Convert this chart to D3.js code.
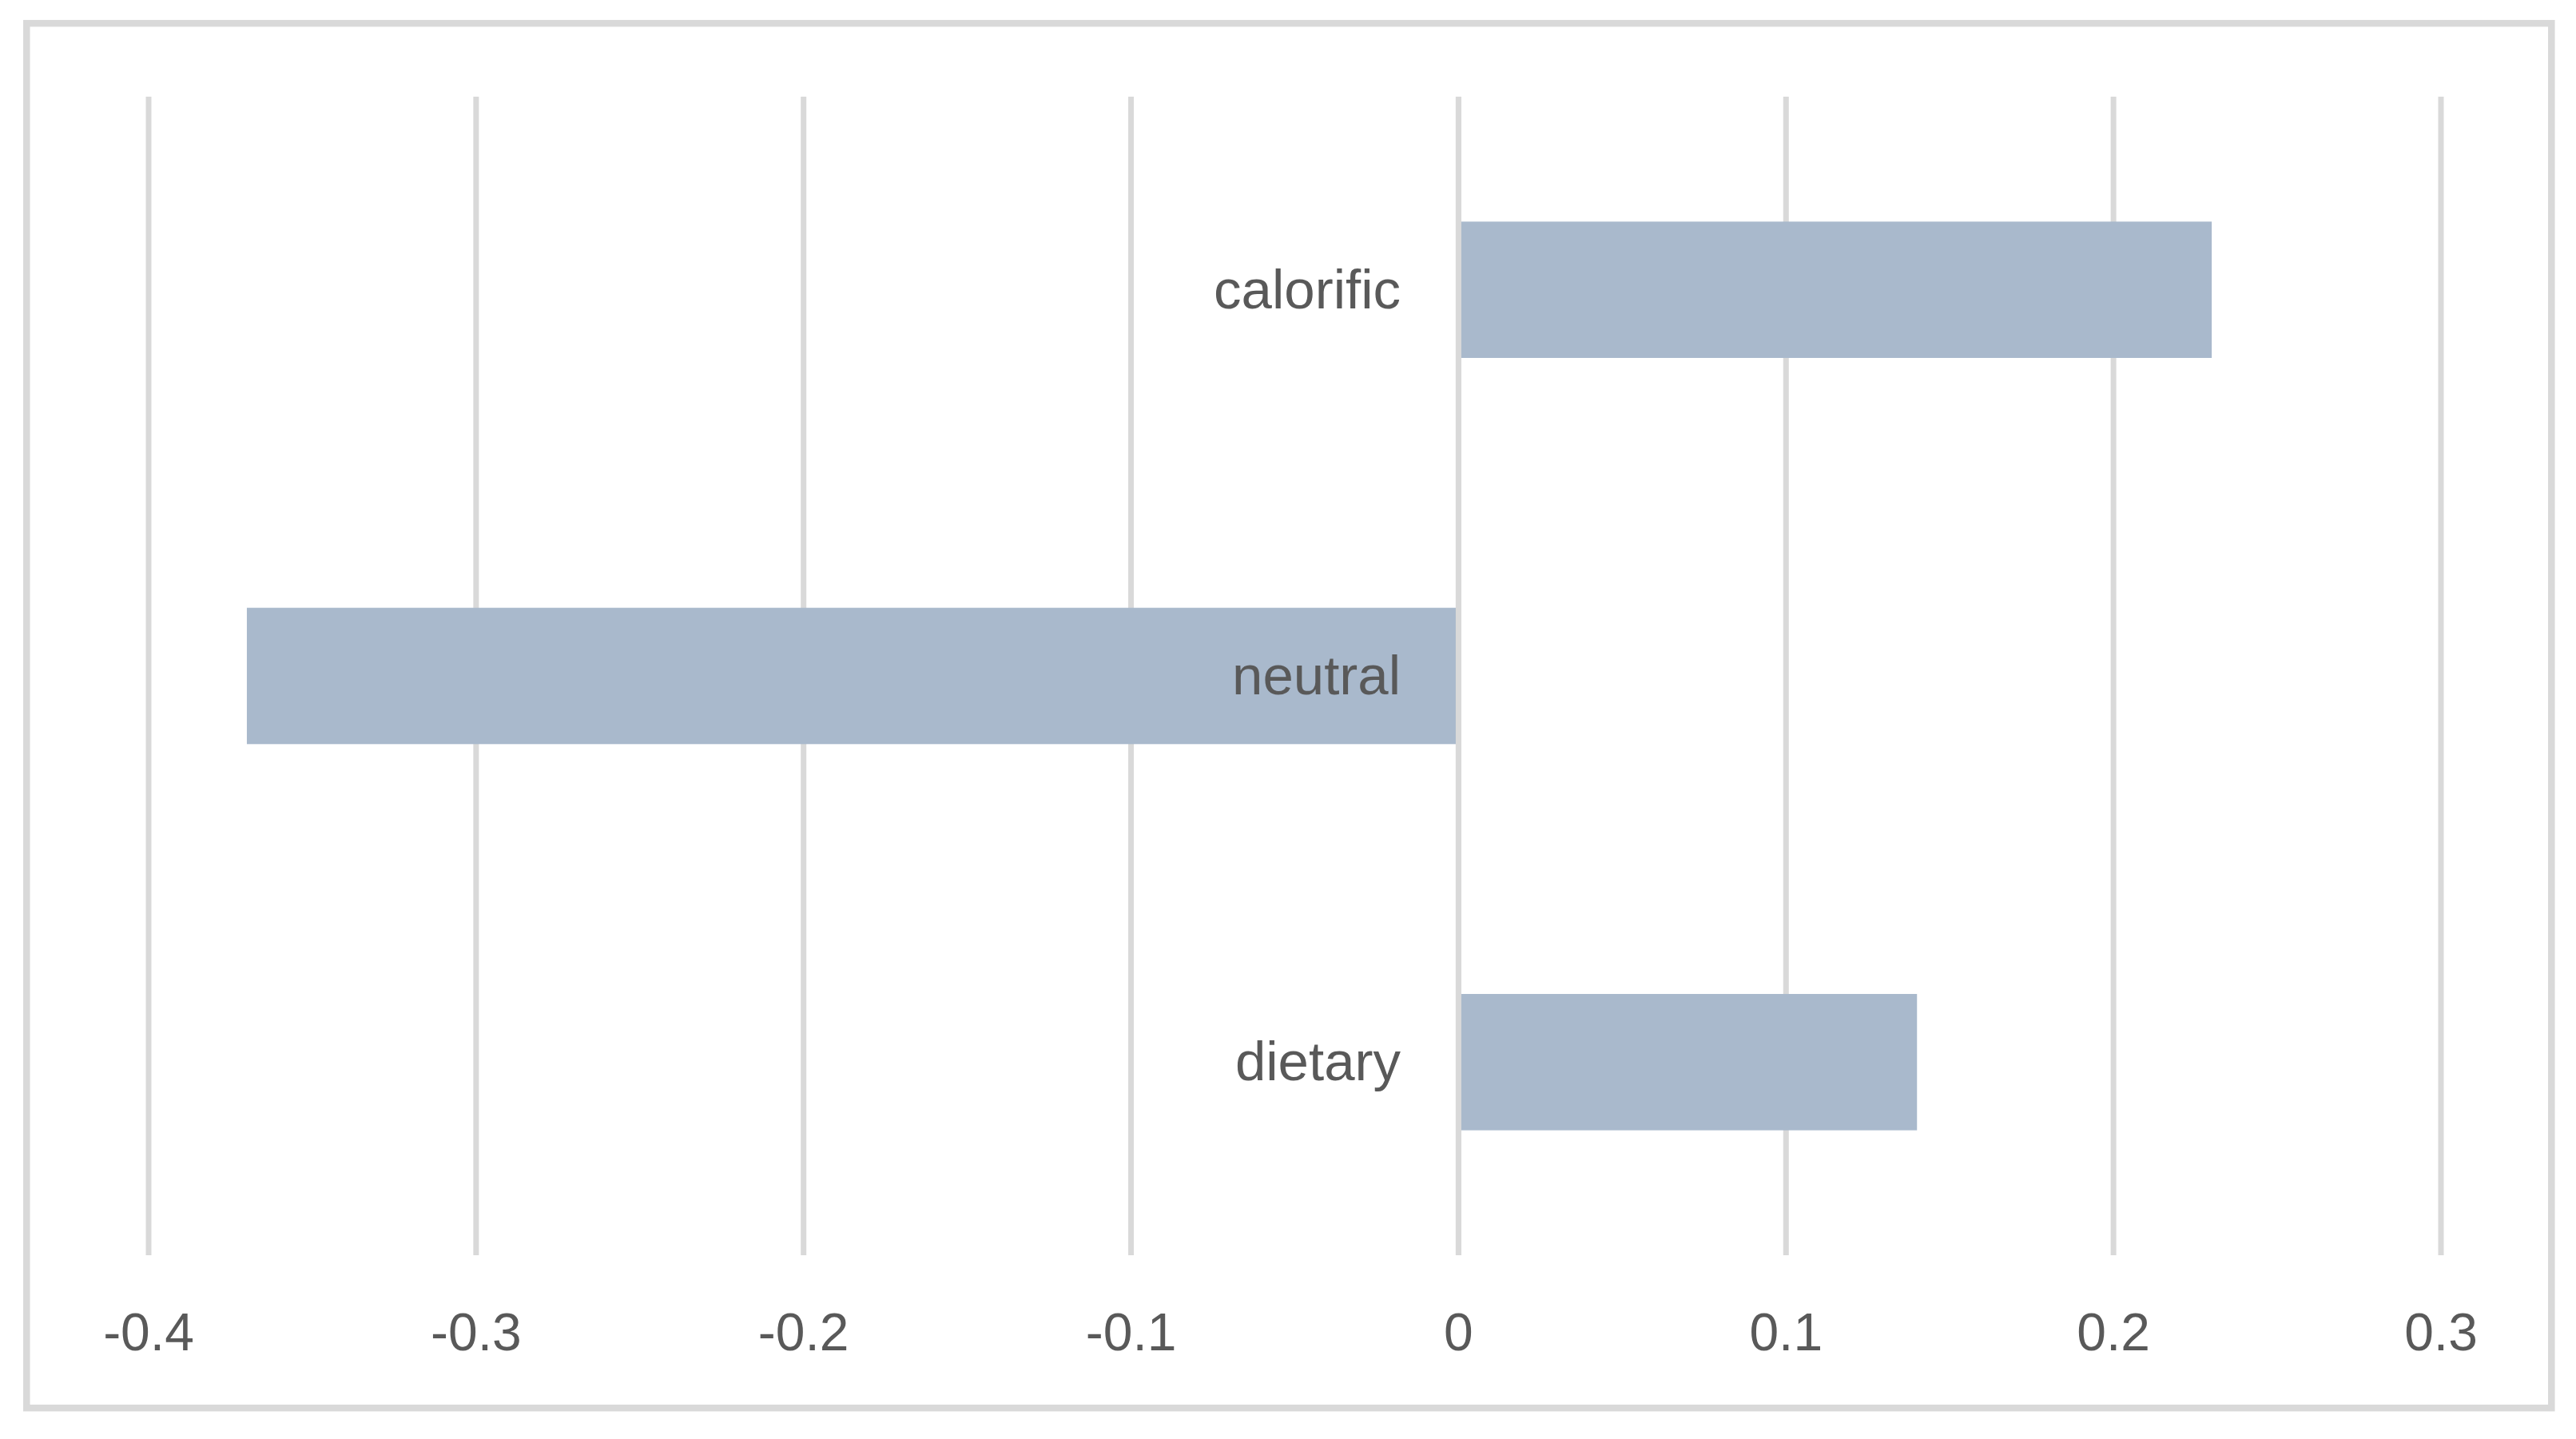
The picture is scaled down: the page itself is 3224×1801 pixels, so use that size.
<!DOCTYPE html>
<html>
<head>
<meta charset="utf-8">
<script src="https://cdn.jsdelivr.net/npm/d3@7"></script>
<style>
  html, body { margin: 0; padding: 0; background: #ffffff; }
  svg { display: block; }
</style>
</head>
<body>
<script>
const categories = ["calorific", "neutral", "dietary"];
const values = [0.23, -0.37, 0.14];
const tickValues = [-0.4, -0.3, -0.2, -0.1, 0, 0.1, 0.2, 0.3];
const tickLabels = ["-0.4", "-0.3", "-0.2", "-0.1", "0", "0.1", "0.2", "0.3"];

const W = 3224, H = 1801;
const svg = d3.select("body").append("svg").attr("width", W).attr("height", H);

svg.append("rect").attr("x", 0).attr("y", 0).attr("width", W).attr("height", H).attr("fill", "#ffffff");
// chart border
svg.append("rect")
  .attr("x", 33.3).attr("y", 29.2).attr("width", 3160).attr("height", 1733)
  .attr("fill", "none").attr("stroke", "#d9d9d9").attr("stroke-width", 8.5);

const x = d3.scaleLinear().domain([-0.4, 0.3]).range([186, 3055]);
const y = d3.scaleBand().domain(categories).range([121, 1571])
  .paddingInner(0.647).paddingOuter(0.3235);

const plotTop = 121, plotBottom = 1571;
const font = "'Liberation Sans', Arial, sans-serif";

// gridlines
svg.append("g").selectAll("line").data(tickValues).join("line")
  .attr("x1", d => x(d)).attr("x2", d => x(d))
  .attr("y1", plotTop).attr("y2", plotBottom)
  .attr("stroke", "#d9d9d9").attr("stroke-width", 7);

// bars
svg.append("g").selectAll("rect").data(categories).join("rect")
  .attr("x", (c, i) => Math.min(x(0), x(values[i])))
  .attr("width", (c, i) => Math.abs(x(values[i]) - x(0)))
  .attr("y", c => y(c))
  .attr("height", y.bandwidth())
  .attr("fill", "#a9b9cc");

// zero line on top
svg.append("line")
  .attr("x1", x(0)).attr("x2", x(0)).attr("y1", plotTop).attr("y2", plotBottom)
  .attr("stroke", "#d9d9d9").attr("stroke-width", 7);

// x tick labels
svg.append("g").selectAll("text").data(tickValues).join("text")
  .attr("x", d => x(d)).attr("y", 1690)
  .attr("text-anchor", "middle")
  .attr("font-family", font).attr("font-size", 66)
  .attr("fill", "#595959")
  .text((d, i) => tickLabels[i]);

// category labels
svg.append("g").selectAll("text").data(categories).join("text")
  .attr("x", 1753)
  .attr("y", c => y(c) + y.bandwidth() / 2 + 23)
  .attr("text-anchor", "end")
  .attr("font-family", font).attr("font-size", 69)
  .attr("fill", "#595959")
  .text(c => c);
</script>
</body>
</html>
